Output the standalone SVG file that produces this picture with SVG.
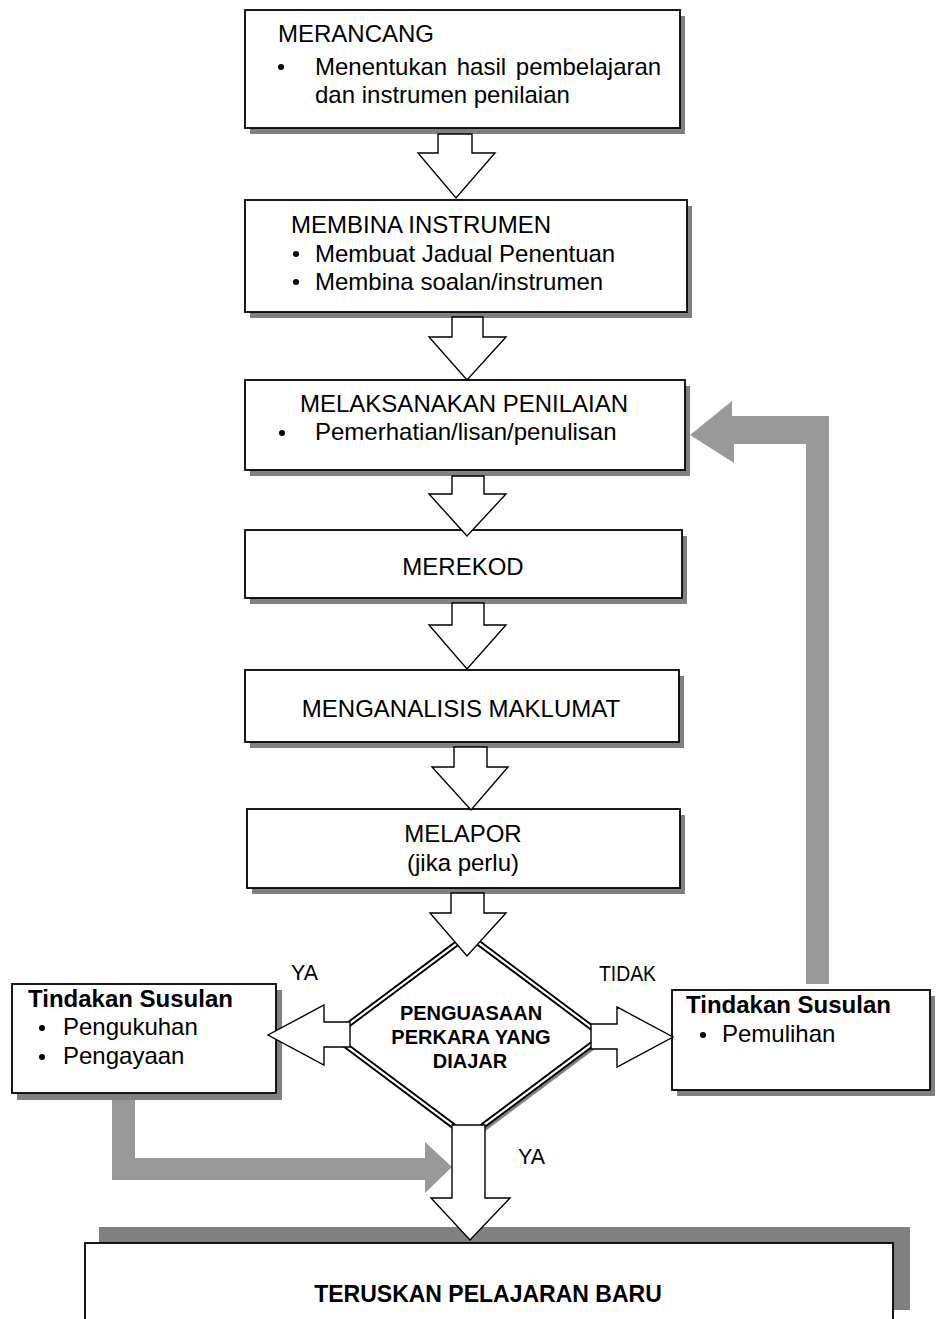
<svg xmlns="http://www.w3.org/2000/svg" width="942" height="1319" viewBox="0 0 942 1319">
<style>
.box{fill:#fff;stroke:#000;stroke-width:1.8}
.sh{fill:#808080}
.t{font-family:"Liberation Sans",Arial,sans-serif;font-size:24px;fill:#000}
.b{font-family:"Liberation Sans",Arial,sans-serif;font-weight:bold;fill:#000}
.lbl{font-family:"Liberation Sans",Arial,sans-serif;font-size:22px;fill:#000}
.arr{fill:#fff;stroke:#000;stroke-width:1.4;stroke-linejoin:miter}
.g{fill:#999}
</style>
<rect width="942" height="1319" fill="#fff"/>

<g id="connectors">
  <path class="g" d="M829,416 L829,984 L806,984 L806,444 L734,444 L734,463 L690,435 L732,401 L732,416 Z"/>
  <path class="g" d="M112,1098 L135,1098 L135,1158 L425,1158 L425,1142 L452,1167 L425,1193 L425,1180 L112,1180 Z"/>
</g>

<g id="merancang">
  <rect class="sh" x="250" y="16" width="435" height="118"/>
  <rect class="box" x="245" y="10" width="435" height="118"/>
  <text class="t" x="278" y="42">MERANCANG</text>
  <circle cx="281" cy="67" r="3"/>
  <text class="t" x="315" y="75" word-spacing="3">Menentukan hasil pembelajaran</text>
  <text class="t" x="315" y="103">dan instrumen penilaian</text>
</g>

<g id="membina">
  <rect class="sh" x="250" y="206" width="442" height="112"/>
  <rect class="box" x="245" y="200" width="442" height="112"/>
  <text class="t" x="291" y="233">MEMBINA INSTRUMEN</text>
  <circle cx="296" cy="254" r="3"/>
  <text class="t" x="315" y="262">Membuat Jadual Penentuan</text>
  <circle cx="296" cy="282" r="3"/>
  <text class="t" x="315" y="290">Membina soalan/instrumen</text>
</g>

<g id="melaksanakan">
  <rect class="sh" x="250" y="386" width="440" height="90"/>
  <rect class="box" x="245" y="380" width="440" height="90"/>
  <text class="t" x="300" y="412">MELAKSANAKAN PENILAIAN</text>
  <circle cx="282" cy="433" r="3"/>
  <text class="t" x="315" y="440">Pemerhatian/lisan/penulisan</text>
</g>

<g id="merekod">
  <rect class="sh" x="250" y="536" width="437" height="68"/>
  <rect class="box" x="245" y="530" width="437" height="68"/>
  <text class="t" x="463" y="575" text-anchor="middle">MEREKOD</text>
</g>

<g id="menganalisis">
  <rect class="sh" x="250" y="676" width="434" height="72"/>
  <rect class="box" x="245" y="670" width="434" height="72"/>
  <text class="t" x="461" y="717" text-anchor="middle">MENGANALISIS MAKLUMAT</text>
</g>

<g id="melapor">
  <rect class="sh" x="252" y="815" width="433" height="79"/>
  <rect class="box" x="247" y="809" width="433" height="79"/>
  <text class="t" x="463" y="842" text-anchor="middle">MELAPOR</text>
  <text class="t" x="463" y="871" text-anchor="middle">(jika perlu)</text>
</g>

<g id="penguasaan">
  <polygon class="sh" points="472,939 607,1040 472,1141 337,1040"/>
  <polygon points="468,935 603,1036 468,1137 333,1036" fill="#fff" stroke="#000" stroke-width="6" stroke-linejoin="miter"/>
  <polygon points="468,935 603,1036 468,1137 333,1036" fill="none" stroke="#fff" stroke-width="2.2" stroke-linejoin="miter"/>
  <text class="b" font-size="20" x="471" y="1020" text-anchor="middle">PENGUASAAN</text>
  <text class="b" font-size="20" x="471" y="1044" text-anchor="middle">PERKARA YANG</text>
  <text class="b" font-size="20" x="470" y="1068" text-anchor="middle">DIAJAR</text>
</g>

<g id="susulan-kiri">
  <rect class="sh" x="17" y="990" width="265" height="110"/>
  <rect class="box" x="12" y="984" width="264" height="109"/>
  <text class="b" font-size="24" x="28" y="1007">Tindakan Susulan</text>
  <circle cx="42" cy="1028" r="3"/>
  <text class="t" x="63" y="1035">Pengukuhan</text>
  <circle cx="42" cy="1057" r="3"/>
  <text class="t" x="63" y="1064">Pengayaan</text>
</g>

<g id="susulan-kanan">
  <rect class="sh" x="677" y="996" width="258" height="100"/>
  <rect class="box" x="672" y="990" width="258" height="100"/>
  <text class="b" font-size="24" x="686" y="1013">Tindakan Susulan</text>
  <circle cx="703" cy="1035" r="3"/>
  <text class="t" x="722" y="1042">Pemulihan</text>
</g>

<g id="teruskan">
  <rect class="sh" x="99" y="1227" width="811" height="83"/>
  <rect class="box" x="85" y="1243" width="808" height="100"/>
  <text class="b" font-size="23" x="488" y="1302" text-anchor="middle">TERUSKAN PELAJARAN BARU</text>
</g>

<g id="arrows">
  <path class="arr" d="M438,134 L472,134 L472,153 L495,153 L456,198 L418,153 L438,153 Z"/>
  <path class="arr" d="M452,317 L483,317 L483,337 L506,337 L467,380 L429,337 L452,337 Z"/>
  <path class="arr" d="M452,476 L484,476 L484,494 L506,494 L467,536 L429,494 L452,494 Z"/>
  <path class="arr" d="M452,603 L484,603 L484,625 L506,625 L467,669 L429,625 L452,625 Z"/>
  <path class="arr" d="M454,747 L487,747 L487,767 L508,767 L471,810 L432,767 L454,767 Z"/>
  <path class="arr" d="M451,893 L484,893 L484,913 L506,913 L467,956 L430,913 L451,913 Z"/>
  <path class="arr" d="M350,1022 L350,1047 L324,1047 L324,1065 L268,1035 L324,1005 L324,1022 Z"/>
  <path class="arr" d="M591,1024 L617,1024 L617,1007 L673,1037 L617,1067 L617,1049 L591,1049 Z"/>
  <path class="arr" d="M452,1125 L485,1125 L485,1198 L510,1198 L470,1240 L431,1198 L452,1198 Z"/>
</g>

<g id="labels">
  <text class="lbl" x="291" y="980" textLength="27" lengthAdjust="spacingAndGlyphs">YA</text>
  <text class="lbl" x="599" y="981" textLength="57" lengthAdjust="spacingAndGlyphs">TIDAK</text>
  <text class="lbl" x="518" y="1164" textLength="27" lengthAdjust="spacingAndGlyphs">YA</text>
</g>
</svg>
